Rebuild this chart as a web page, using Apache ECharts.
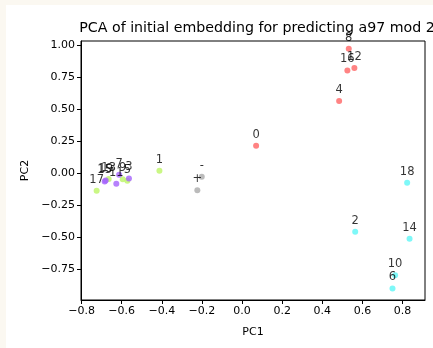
<!DOCTYPE html>
<html>
<head>
<meta charset="utf-8">
<script src="https://cdn.jsdelivr.net/npm/echarts@6/dist/echarts.min.js"></script>
<style>
  html, body { margin: 0; padding: 0; background: #fff; overflow: hidden; }
  #chart { position: absolute; left: 6px; top: 5px; width: 427px; height: 343px; background: #fff; }
  .strip { position: fixed; background: #fbf8f1; }
  #stripLeft { left: 0; top: 0; width: 6px; height: 100%; }
  #stripTop { left: 0; top: 0; width: 100%; height: 5px; }
</style>
</head>
<body>
<div class="strip" id="stripLeft"></div>
<div class="strip" id="stripTop"></div>
<div id="chart"></div>
<script>
// point labels, grouped by colour
const redLabels = ["0", "4", "8", "12", "16"];
const redX = [0.07, 0.484, 0.532, 0.56, 0.525];
const redY = [0.213, 0.563, 0.969, 0.82, 0.80];

const cyanLabels = ["2", "6", "10", "14", "18"];
const cyanX = [0.564, 0.75, 0.763, 0.835, 0.823];
const cyanY = [-0.458, -0.90, -0.797, -0.513, -0.076];

const greenLabels = ["1", "5", "9", "13", "17"];
const greenX = [-0.412, -0.572, -0.595, -0.665, -0.725];
const greenY = [0.018, -0.06, -0.049, -0.047, -0.138];

const purpleLabels = ["3", "7", "11", "15", "19"];
const purpleX = [-0.564, -0.613, -0.627, -0.685, -0.68];
const purpleY = [-0.042, -0.013, -0.084, -0.065, -0.058];

const grayLabels = ["-", "+"];
const grayX = [-0.201, -0.223];
const grayY = [-0.029, -0.135];

const xTicks = [-0.8, -0.6, -0.4, -0.2, 0.0, 0.2, 0.4, 0.6, 0.8];
const yTicks = [-0.75, -0.5, -0.25, 0.0, 0.25, 0.5, 0.75, 1.0];

const FONT = "DejaVu Sans";
const minus = (s) => s.replace("-", "\u2212");

function makeSeries(labels, xs, ys, color) {
  return {
    type: "scatter",
    symbolSize: 6,
    itemStyle: { color: color },
    label: {
      show: true,
      position: "top",
      distance: 2,
      color: "#000",
      fontFamily: FONT,
      fontSize: 11.5,
      formatter: (p) => p.data[2]
    },
    data: labels.map((l, i) => [xs[i], ys[i], l])
  };
}

const chart = echarts.init(document.getElementById("chart"));

const option = {
  animation: false,
  title: {
    text: "PCA of initial embedding for predicting a97 mod 2",
    left: 246,
    top: 11,
    textAlign: "center",
    textStyle: { fontFamily: FONT, fontSize: 14.2, fontWeight: "normal", color: "#000" }
  },
  grid: {
    left: 75,
    top: 36,
    width: 344,
    height: 259,
    show: true,
    borderColor: "#000",
    borderWidth: 1,
    backgroundColor: "#fff"
  },
  xAxis: {
    type: "value",
    min: -0.803,
    max: 0.912,
    name: "PC1",
    nameLocation: "middle",
    nameGap: 27,
    nameTextStyle: { fontFamily: FONT, fontSize: 11, color: "#000" },
    splitLine: { show: false },
    axisLine: { onZero: false, lineStyle: { color: "#000" } },
    axisTick: { customValues: xTicks, length: 4, lineStyle: { color: "#000" } },
    axisLabel: {
      customValues: xTicks,
      margin: 6,
      fontFamily: FONT,
      fontSize: 11,
      color: "#000",
      formatter: (v) => minus(v.toFixed(1))
    }
  },
  yAxis: {
    type: "value",
    min: -0.99,
    max: 1.03,
    name: "PC2",
    nameLocation: "middle",
    nameGap: 46,
    nameTextStyle: { fontFamily: FONT, fontSize: 11, color: "#000" },
    splitLine: { show: false },
    axisLine: { onZero: false, lineStyle: { color: "#000" } },
    axisTick: { customValues: yTicks, length: 4, lineStyle: { color: "#000" } },
    axisLabel: {
      customValues: yTicks,
      margin: 6,
      fontFamily: FONT,
      fontSize: 11,
      color: "#000",
      formatter: (v) => minus(v.toFixed(2))
    }
  },
  series: [
    makeSeries(redLabels, redX, redY, "#ff6464"),
    makeSeries(cyanLabels, cyanX, cyanY, "#5ef6f6"),
    makeSeries(greenLabels, greenX, greenY, "#bdf565"),
    makeSeries(purpleLabels, purpleX, purpleY, "#a462fb"),
    makeSeries(grayLabels, grayX, grayY, "#aaaaaa")
  ]
};

chart.setOption(option);
</script>
</body>
</html>
